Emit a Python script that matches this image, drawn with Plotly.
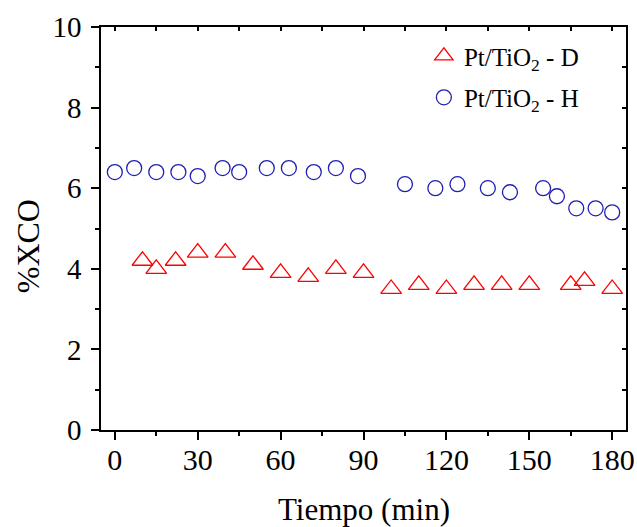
import plotly.graph_objects as go

# Data
t_D = [10, 15, 22, 30, 40, 50, 60, 70, 80, 90, 100, 110, 120, 130, 140, 150, 165, 170, 180]
x_D = [4.2, 4.0, 4.2, 4.4, 4.4, 4.1, 3.9, 3.8, 4.0, 3.9, 3.5, 3.6, 3.5, 3.6, 3.6, 3.6, 3.6, 3.7, 3.5]

t_H = [0, 7, 15, 23, 30, 39, 45, 55, 63, 72, 80, 88, 105, 116, 124, 135, 143, 155, 160, 167, 174, 180]
x_H = [6.4, 6.5, 6.4, 6.4, 6.3, 6.5, 6.4, 6.5, 6.5, 6.4, 6.5, 6.3, 6.1, 6.0, 6.1, 6.0, 5.9, 6.0, 5.8, 5.5, 5.5, 5.4]

name_D = "Pt/TiO<sub>2</sub> - D"
name_H = "Pt/TiO<sub>2</sub> - H"
x_ticks = [0, 30, 60, 90, 120, 150, 180]
y_ticks = [0, 2, 4, 6, 8, 10]
x_title = "Tiempo (min)"
y_title = "%XCO"

FONT = "Liberation Serif"
RED = "#FF0000"
BLUE = "#1f1fb4"

fig = go.Figure()
fig.add_trace(go.Scatter(
    x=t_D, y=x_D, mode="markers", name=name_D, legendgroup="D",
    marker=dict(symbol="triangle-up-open", size=18, color=RED, line=dict(width=1.3, color=RED)),
))
fig.add_trace(go.Scatter(
    x=t_H, y=x_H, mode="markers", name=name_H, legendgroup="H",
    marker=dict(symbol="circle-open", size=15, color=BLUE, line=dict(width=1.3, color=BLUE)),
))
# empty trace to attach the mirrored top/right axes
fig.add_trace(go.Scatter(x=[], y=[], xaxis="x2", yaxis="y2", showlegend=False, hoverinfo="skip"))

xr = [-5, 185]
yr = [0, 10]
fig.update_layout(
    width=637, height=527,
    margin=dict(l=101, r=11, t=27, b=97, autoexpand=False),
    paper_bgcolor="white", plot_bgcolor="white",
    font=dict(family=FONT, color="black", size=30),
    showlegend=True,
    legend=dict(
        x=0.615, y=0.985, xanchor="left", yanchor="top",
        font=dict(family=FONT, size=25, color="black"),
        bgcolor="rgba(0,0,0,0)", tracegroupgap=6, traceorder="grouped",
    ),
    xaxis=dict(
        range=xr, tickvals=x_ticks, ticktext=[str(v) for v in x_ticks], automargin=False,
        showgrid=False, zeroline=False, showline=True, linecolor="black", linewidth=1.5,
        ticks="outside", ticklen=8, tickwidth=1.5, tickcolor="black",
        minor=dict(dtick=15, tick0=0, ticks="outside", ticklen=4, tickwidth=1.5, tickcolor="black"),
        mirror=True, ticklabelstandoff=-6,
        tickfont=dict(family=FONT, size=30, color="black"),
    ),
    yaxis=dict(
        range=yr, tickvals=y_ticks, ticktext=[str(v) for v in y_ticks], automargin=False,
        showgrid=False, zeroline=False, showline=True, linecolor="black", linewidth=1.5,
        ticks="outside", ticklen=8, tickwidth=1.5, tickcolor="black",
        minor=dict(dtick=1, tick0=0, ticks="outside", ticklen=4, tickwidth=1.5, tickcolor="black"),
        mirror=True, ticklabelstandoff=4,
        tickfont=dict(family=FONT, size=29, color="black"),
    ),
    xaxis2=dict(
        overlaying="x", side="top", anchor="y2", range=xr, dtick=15, tick0=0, automargin=False,
        showgrid=False, zeroline=False, showline=False, showticklabels=False,
        ticks="inside", ticklen=4, tickwidth=1.5, tickcolor="black",
    ),
    yaxis2=dict(
        overlaying="y", side="right", anchor="x2", range=yr, dtick=1, tick0=0, automargin=False,
        showgrid=False, zeroline=False, showline=False, showticklabels=False,
        ticks="inside", ticklen=4, tickwidth=1.5, tickcolor="black",
    ),
    annotations=[
        dict(text=x_title, xref="paper", yref="paper", x=0.5, y=-0.198,
             xanchor="center", yanchor="middle", showarrow=False,
             font=dict(family=FONT, size=31, color="black")),
        dict(text=y_title, xref="paper", yref="paper", x=-0.139, y=0.456,
             xanchor="center", yanchor="middle", showarrow=False, textangle=-90,
             font=dict(family=FONT, size=32, color="black")),
    ],
)

fig.write_html(
    "out.html",
    config={"displayModeBar": False},
    post_script="document.body.style.margin='0';document.body.style.padding='0';",
)
